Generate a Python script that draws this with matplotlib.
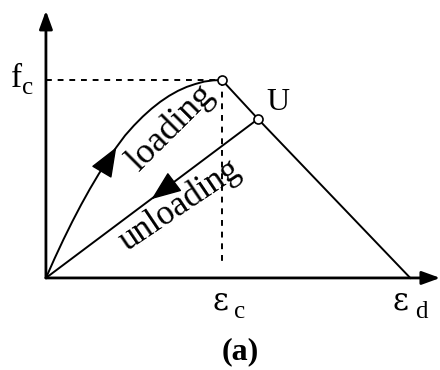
import matplotlib.pyplot as plt

plt.rcParams['font.family'] = ['Liberation Serif', 'DejaVu Serif']

# normalised strain / stress (eps / eps_c, sigma / f_c)
load_strain = [0, 0.05, 0.10, 0.15, 0.20, 0.25, 0.30, 0.35, 0.40, 0.45, 0.50,
               0.55, 0.60, 0.65, 0.70, 0.75, 0.80, 0.85, 0.90, 0.95, 1.0]
load_stress = [0, 0.10, 0.195, 0.285, 0.37, 0.45, 0.525, 0.595, 0.66, 0.72, 0.77,
               0.815, 0.855, 0.89, 0.92, 0.945, 0.965, 0.98, 0.992, 0.998, 1.0]
eps_c, f_c = 1.0, 1.0
eps_d = 2.07
eps_u, sig_u = 1.205, 0.803

x_max, y_max = 2.24, 1.35  # axis arrow tips

fig = plt.figure(figsize=(4.4, 3.7), dpi=100)
ax = fig.add_axes([0, 0, 1, 1])
ax.set_xlim(-0.261, 2.239)
ax.set_ylim(-0.465, 1.404)
ax.axis('off')

# axes with arrow heads
ax_arrow = dict(arrowstyle='-|>,head_length=1.1,head_width=0.4', color='k', lw=2,
                shrinkA=0, shrinkB=0)
ax.annotate('', xy=(x_max, 0), xytext=(0, 0), arrowprops=ax_arrow)
ax.annotate('', xy=(0, y_max), xytext=(0, 0), arrowprops=ax_arrow)

# loading curve, unloading line and softening branch
ax.plot(load_strain, load_stress, 'k-', lw=1.4)
ax.plot([0, eps_u], [0, sig_u], 'k-', lw=1.4)
ax.plot([eps_c, eps_u, eps_d], [f_c, sig_u, 0], 'k-', lw=1.4)

# guide lines to the peak
ax.plot([0, eps_c], [f_c, f_c], 'k', lw=1.4, ls=(0, (3, 3)))
ax.plot([eps_c, eps_c], [f_c, 0.06], 'k', lw=1.4, ls=(0, (3, 3)))

ax.plot([eps_c, eps_u], [f_c, sig_u], 'o', ms=6.5, mfc='w', mec='k', mew=1.2, zorder=5)

# direction arrows
head = dict(arrowstyle='-|>,head_length=1.9,head_width=0.75', color='k', lw=1,
            shrinkA=0, shrinkB=0)
ax.annotate('', xy=(0.40, 0.66), xytext=(0.33, 0.555), arrowprops=head)
ax.annotate('', xy=(0.60, 0.398), xytext=(0.70, 0.465), arrowprops=head)

# labels
ax.text(-0.20, 0.965, 'f', fontsize=24, ha='left', va='baseline')
ax.text(-0.135, 0.93, 'c', fontsize=18, ha='left', va='baseline')
ax.text(0.945, -0.16, '\u03b5', fontsize=22, family='DejaVu Serif', ha='left', va='baseline')
ax.text(1.07, -0.2, 'c', fontsize=18, ha='left', va='baseline')
ax.text(1.968, -0.16, '\u03b5', fontsize=22, family='DejaVu Serif', ha='left', va='baseline')
ax.text(2.10, -0.2, 'd', fontsize=18, ha='left', va='baseline')
ax.text(1.25, 0.85, 'U', fontsize=23, ha='left', va='baseline')

ax.text(0.71, 0.758, 'loading', fontsize=26, rotation=45,
        ha='center', va='center', rotation_mode='anchor')
ax.text(0.761, 0.369, 'unloading', fontsize=25, rotation=34,
        ha='center', va='center', rotation_mode='anchor')

ax.text(1.102, -0.375, '(a)', fontsize=23, fontweight='bold', ha='center', va='center')

fig.savefig('out.png', dpi=100)
